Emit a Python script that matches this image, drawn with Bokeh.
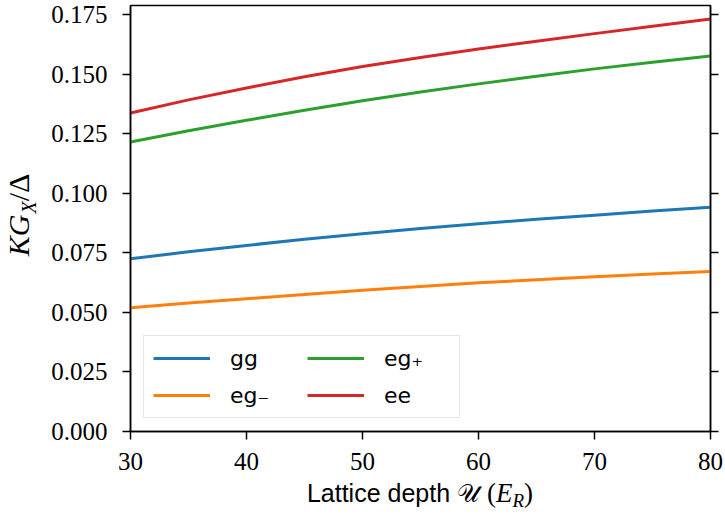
from bokeh.plotting import figure
from bokeh.models import (Range1d, FixedTicker, NumeralTickFormatter, LinearAxis,
                          Legend, LegendItem, Div)
from bokeh.layouts import row, column
from bokeh.embed import file_html
from bokeh.resources import INLINE

# ---- data ----
depth = [30, 35, 40, 45, 50, 55, 60, 65, 70, 75, 80]
gg = [0.0725, 0.0754, 0.0781, 0.0807, 0.0830, 0.0852, 0.0872, 0.0891, 0.0908, 0.0925, 0.0941]
eg_minus = [0.0519, 0.0539, 0.0557, 0.0575, 0.0593, 0.0609, 0.0624, 0.0637, 0.0650, 0.0661, 0.0672]
eg_plus = [0.1215, 0.1262, 0.1306, 0.1348, 0.1388, 0.1425, 0.1459, 0.1491, 0.1522, 0.1550, 0.1576]
ee = [0.1337, 0.1392, 0.1442, 0.1489, 0.1532, 0.1570, 0.1605, 0.1638, 0.1670, 0.1701, 0.1731]
series_names = ["gg", "eg\u208b", "eg\u208a", "ee"]
series_colors = ["#1f77b4", "#ff7f0e", "#2ca02c", "#d62728"]
x_ticks = [30, 40, 50, 60, 70, 80]
y_ticks = [0.0, 0.025, 0.05, 0.075, 0.1, 0.125, 0.15, 0.175]

SERIF = "Liberation Serif"
SANS = "Liberation Sans"

YLAB_W = 45      # width of the y-label strip
XLAB_H = 35      # height of the x-label strip
FIG_W = 725 - YLAB_W
FIG_H = 515 - XLAB_H

p = figure(width=FIG_W, height=FIG_H, output_backend="svg", toolbar_location=None,
           x_range=Range1d(30, 80), y_range=Range1d(0.0, 0.1788),
           min_border_left=130 - YLAB_W, min_border_right=15, min_border_top=5,
           min_border_bottom=FIG_H - 431, margin=0)
p.grid.visible = False
p.outline_line_color = "black"
p.outline_line_width = 1.5
p.background_fill_color = "white"
p.border_fill_color = "white"

for ax in (p.xaxis[0], p.yaxis[0]):
    ax.axis_line_width = 1.5
    ax.axis_line_color = "black"
    ax.major_tick_line_width = 1.5
    ax.major_tick_line_color = "black"
    ax.major_tick_out = 8
    ax.major_tick_in = 0
    ax.minor_tick_line_color = None
    ax.major_label_text_font = SERIF
    ax.major_label_text_font_size = "25px"
    ax.major_label_text_color = "black"

p.xaxis.ticker = FixedTicker(ticks=x_ticks)
p.xaxis.major_label_standoff = 13
p.yaxis.ticker = FixedTicker(ticks=y_ticks)
p.yaxis.formatter = NumeralTickFormatter(format="0.000")
p.yaxis.major_label_standoff = 15

right = LinearAxis(ticker=FixedTicker(ticks=y_ticks), major_label_text_font_size="1px",
                   major_label_text_color=None,
                   major_tick_out=8, major_tick_in=0, major_label_standoff=0,
                   axis_line_width=1.5, major_tick_line_width=1.5,
                   minor_tick_line_color=None)
p.add_layout(right, "right")

renderers = []
for ys, col in zip([gg, eg_minus, eg_plus, ee], series_colors):
    r = p.line(depth, ys, line_color=col, line_width=3)
    renderers.append(r)

legend = Legend(items=[LegendItem(label=n, renderers=[r]) for n, r in zip(series_names, renderers)],
                location="bottom_left", ncols=2, orientation="vertical",
                margin=13, padding=9, spacing=11,
                glyph_width=57, glyph_height=26, label_standoff=20,
                label_width=66, label_height=26,
                label_text_font="DejaVu Sans", label_text_font_size="22px",
                label_text_color="black",
                border_line_color="#cccccc", border_line_width=1.5,
                background_fill_color="white", background_fill_alpha=0.8)
p.add_layout(legend)

# ---- y-axis label: K G_X / Delta, rotated ----
ylab_html = (
    f'<div style="position:relative;width:{YLAB_W}px;height:{FIG_H}px;">'
    '<div style="position:absolute;left:20px;top:215px;'
    'transform:translate(-50%,-50%) rotate(-90deg);transform-origin:center center;'
    f"white-space:nowrap;font-family:'{SERIF}';font-size:30px;line-height:30px;color:black;\">"
    '<i>KG</i><span style="font-size:20px;position:relative;top:7px;margin-left:1px;"><i>X</i></span>/\u0394'
    '</div></div>'
)
ydiv = Div(text=ylab_html, width=YLAB_W, height=FIG_H, margin=0)

# ---- x-axis label: Lattice depth U (E_R) ----
xlab_html = (
    f'<div style="position:relative;width:725px;height:{XLAB_H}px;">'
    '<div style="position:absolute;left:420px;top:0px;transform:translateX(-50%);'
    f"white-space:nowrap;font-family:'{SANS}';font-size:25px;line-height:26px;color:black;\">"
    "Lattice depth <span style=\"font-family:'DejaVu Sans';font-size:25px;\">\U0001D4B0</span> "
    f"<span style=\"font-family:'{SERIF}';font-size:27px;\">(<i>E</i>"
    '<span style="font-size:19px;position:relative;top:5px;"><i>R</i></span>)</span>'
    '</div></div>'
)
xdiv = Div(text=xlab_html, width=725, height=XLAB_H, margin=0)

layout = column(row(ydiv, p, spacing=0), xdiv, spacing=0)

open("out.html", "w").write(file_html(layout, INLINE))
